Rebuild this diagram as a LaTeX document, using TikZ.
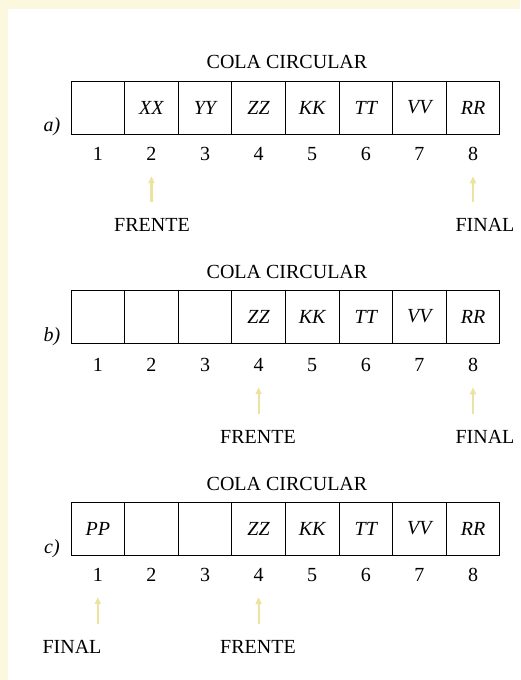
\documentclass[tikz,border=0pt]{standalone}
\usepackage{fontspec}
\setmainfont{Liberation Serif}
\usetikzlibrary{arrows.meta}
\definecolor{amarillo}{HTML}{EDE3A0}
\definecolor{papel}{HTML}{FCF8E0}
\begin{document}
\begin{tikzpicture}[x=1pt,y=-1pt,font=\fontsize{20}{24}\selectfont]
            \tikzstyle{casilla}=[draw,line width=0.8pt,minimum width=53.6pt,minimum height=53pt,inner sep=0pt,font=\fontsize{20}{24}\selectfont\itshape]
            \tikzstyle{flecha}=[amarillo,line width=2.2pt,shorten >=12pt,shorten <=13pt,-{Triangle[length=7pt,width=6pt]}]
            \useasboundingbox (0,0) rectangle (520,680);
            \fill[papel] (0,0) rectangle (520,9);
            \fill[papel] (0,0) rectangle (8,680);
            % a) FRENTE en 2, FINAL en 8
            \node (ta) at (287,62) {COLA CIRCULAR};
            \foreach \i/\t in {1/,2/XX,3/YY,4/ZZ,5/KK,6/TT,7/VV,8/RR}
              \node[casilla] (a\i) at ({71+53.6*(\i-0.5)},107.5) {\t};
            \node (la) at (52,127) {\itshape a)};
            \foreach \i in {1,...,8}
              \node (na\i) at ({71+53.6*(\i-0.5)},154) {\i};
            \node (fa) at (152,225) {FRENTE};
            \node (ea) at (485,225) {FINAL};
            \draw[flecha] (na2 |- fa.north) -- (na2.south);
            \draw[flecha] (na8 |- ea.north) -- (na8.south);
            % b) FRENTE en 4, FINAL en 8
            \node (tb) at (287,272) {COLA CIRCULAR};
            \foreach \i/\t in {1/,2/,3/,4/ZZ,5/KK,6/TT,7/VV,8/RR}
              \node[casilla] (b\i) at ({71+53.6*(\i-0.5)},316.5) {\t};
            \node (lb) at (52,337) {\itshape b)};
            \foreach \i in {1,...,8}
              \node (nb\i) at ({71+53.6*(\i-0.5)},365) {\i};
            \node (fb) at (258,437) {FRENTE};
            \node (eb) at (485,437) {FINAL};
            \draw[flecha] (nb4 |- fb.north) -- (nb4.south);
            \draw[flecha] (nb8 |- eb.north) -- (nb8.south);
            % c) FINAL en 1, FRENTE en 4
            \node (tc) at (287,484) {COLA CIRCULAR};
            \foreach \i/\t in {1/PP,2/,3/,4/ZZ,5/KK,6/TT,7/VV,8/RR}
              \node[casilla] (c\i) at ({71+53.6*(\i-0.5)},528.5) {\t};
            \node (lc) at (52,549) {\itshape c)};
            \foreach \i in {1,...,8}
              \node (nc\i) at ({71+53.6*(\i-0.5)},575) {\i};
            \node (ec) at (72,647) {FINAL};
            \node (fc) at (258,647) {FRENTE};
            \draw[flecha] (nc1 |- ec.north) -- (nc1.south);
            \draw[flecha] (nc4 |- fc.north) -- (nc4.south);
        \end{tikzpicture}
\end{document}
